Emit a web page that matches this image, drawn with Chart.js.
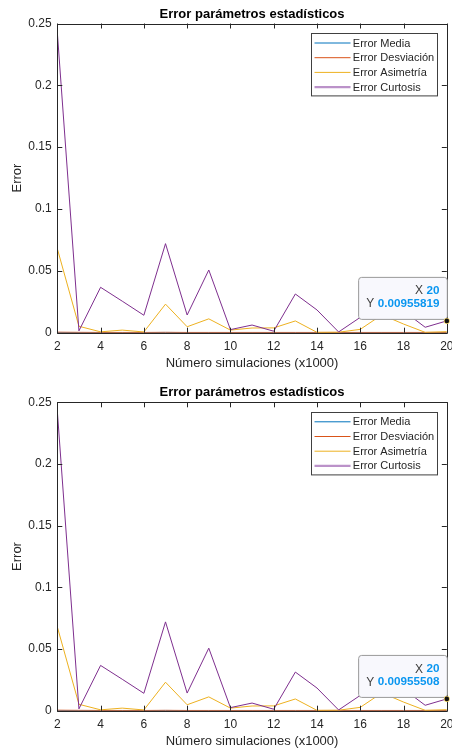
<!DOCTYPE html>
<html><head><meta charset="utf-8">
<script src="https://cdn.jsdelivr.net/npm/chart.js@4/dist/chart.umd.min.js"></script>
<style>
html,body{margin:0;padding:0;background:#fff;overflow:hidden;width:452px;height:749px;}
.wrap{position:absolute;left:0;width:460px;height:372px;}
canvas{display:block;}
</style></head><body>
<div class="wrap" style="top:0px"><canvas id="c1" width="460" height="372"></canvas></div>
<div class="wrap" style="top:377px"><canvas id="c2" width="460" height="372"></canvas></div>
<script>
// ---- data ----
const simulaciones = [2,3,4,5,6,7,8,9,10,11,12,13,14,15,16,17,18,19,20];
const errorMedia = [0.0002,0.0001,0.0001,0.0001,0.0001,0.0002,0.0001,0.0001,0.0001,0.0001,0.0001,0.0001,0.0001,0.0001,0.0001,0.0001,0.0001,0.0001,0.0001];
const errorDesviacion = [0.0004,0.0003,0.0002,0.0002,0.0002,0.0003,0.0002,0.0002,0.0002,0.0002,0.0002,0.0002,0.0002,0.0002,0.0002,0.0002,0.0002,0.0002,0.0002];
const errorAsimetria = [0.068,0.0052,0.0007,0.0021,0.0006,0.0231,0.0048,0.0112,0.0021,0.0038,0.0039,0.0095,0.0003,0.0004,0.0027,0.0145,0.007,0.0003,0.0008];
const errorCurtosis1 = [0.243,0.0015,0.0367,0.0255,0.0141,0.072,0.0143,0.0507,0.0025,0.0062,0.0012,0.0313,0.0184,0.0006,0.0124,0.02,0.0176,0.0044,0.00955819];
const errorCurtosis2 = [0.243,0.0015,0.0367,0.0255,0.0141,0.072,0.0143,0.0507,0.0025,0.0062,0.0012,0.0313,0.0184,0.0006,0.0124,0.02,0.0176,0.0044,0.00955508];
const tip1 = ['20','0.00955819'];
const tip2 = ['20','0.00955508'];
const xTickValues = [2,4,6,8,10,12,14,16,18,20];
const yTickValues = [0,0.05,0.1,0.15,0.2,0.25];
const yTickLabels = ['0','0.05','0.1','0.15','0.2','0.25'];
const seriesLabels = ['Error Media','Error Desviación','Error Asimetría','Error Curtosis'];
const seriesColors = ['#0072BD','#D95319','#EDB120','#7E2F8E'];
const chartTitle = 'Error parámetros estadísticos';
const xAxisTitle = 'Número simulaciones (x1000)';
const yAxisTitle = 'Error';

const FONT = "'Liberation Sans', Arial, Helvetica, sans-serif";
const AX = '#262626';

const boxPlugin = {
  id: 'matlabBox',
  afterDatasetsDraw(chart) {
    const {ctx, chartArea: a, scales} = chart;
    ctx.save();
    ctx.strokeStyle = AX; ctx.lineWidth = 1;
    ctx.beginPath();
    ctx.rect(Math.round(a.left)+0.5, Math.round(a.top)+0.5, Math.round(a.right)-Math.round(a.left), Math.round(a.bottom)-Math.round(a.top));
    ctx.stroke();
    const tl = 5;
    ctx.beginPath();
    scales.x.ticks.forEach(t => {
      const px = Math.round(scales.x.getPixelForValue(t.value))+0.5;
      ctx.moveTo(px, a.bottom); ctx.lineTo(px, a.bottom - tl);
      ctx.moveTo(px, a.top); ctx.lineTo(px, a.top + tl);
    });
    scales.y.ticks.forEach(t => {
      const py = Math.round(scales.y.getPixelForValue(t.value))+0.5;
      ctx.moveTo(a.left, py); ctx.lineTo(a.left + tl, py);
      ctx.moveTo(a.right, py); ctx.lineTo(a.right - tl, py);
    });
    ctx.stroke();
    ctx.restore();
  },
  afterDraw(chart, args, opts) {
    const {ctx, chartArea: a, scales} = chart;
    // legend
    ctx.save();
    const bw = 126, bh = 62.4;
    const bx = a.right - 9.7 - bw, by = a.top + 9.8;
    ctx.fillStyle = '#fff';
    ctx.fillRect(bx, by, bw, bh);
    ctx.strokeStyle = '#404040'; ctx.lineWidth = 1;
    ctx.strokeRect(Math.round(bx)+0.5, Math.round(by)+0.5, bw, bh);
    ctx.font = '11px ' + FONT;
    ctx.textBaseline = 'middle'; ctx.textAlign = 'left';
    chart.data.datasets.forEach((ds, i) => {
      const yy = by + 9.7 + i * 14.7;
      ctx.beginPath();
      ctx.strokeStyle = i === 3 ? '#bb92c9' : ds.borderColor;
      ctx.lineWidth = i === 3 ? 2.2 : 1;
      ctx.moveTo(bx + 3.4, yy); ctx.lineTo(bx + 39.4, yy);
      ctx.stroke();
      ctx.fillStyle = AX;
      ctx.fillText(ds.label, bx + 41.7, yy + 0.5);
    });
    // datatip
    const tip = opts.tip;
    const ds = chart.data.datasets[3].data;
    const last = ds[ds.length - 1];
    const px = scales.x.getPixelForValue(last.x), py = scales.y.getPixelForValue(last.y);
    const tw = 88.7, th = 42;
    const tx = px - tw, ty = py - 2 - th;
    ctx.beginPath();
    if (ctx.roundRect) ctx.roundRect(tx+0.5, ty+0.5, tw, th, 3); else ctx.rect(tx+0.5, ty+0.5, tw, th);
    ctx.fillStyle = '#f8f8fd'; ctx.fill();
    ctx.strokeStyle = '#9a9a9a'; ctx.lineWidth = 1; ctx.stroke();
    ctx.textAlign = 'right'; ctx.textBaseline = 'middle';
    const rx = px - 7.4;
    ctx.font = 'bold 11.7px ' + FONT;
    const w1 = ctx.measureText(tip[0]).width, w2 = ctx.measureText(tip[1]).width;
    ctx.fillStyle = '#0a96f0';
    ctx.fillText(tip[0], rx, ty + 14.3);
    ctx.fillText(tip[1], rx, ty + 27.3);
    ctx.font = '12px ' + FONT;
    ctx.fillStyle = '#404040';
    ctx.fillText('X ', rx - w1, ty + 14.3);
    ctx.fillText('Y ', rx - w2, ty + 27.3);
    // marker
    ctx.beginPath();
    ctx.arc(px, py, 3, 0, Math.PI * 2);
    ctx.fillStyle = '#f0d060'; ctx.fill();
    ctx.beginPath();
    ctx.arc(px, py, 2.3, 0, Math.PI * 2);
    ctx.fillStyle = '#111'; ctx.fill();
    ctx.restore();
  }
};

function makeChart(id, curtosis, tip, g) {
  const series = [errorMedia, errorDesviacion, errorAsimetria, curtosis];
  const datasets = series.map((arr, i) => ({
    label: seriesLabels[i],
    data: simulaciones.map((x, k) => ({x: x, y: arr[k]})),
    borderColor: seriesColors[i],
    backgroundColor: seriesColors[i],
    borderWidth: 1,
    pointRadius: 0,
    tension: 0,
    fill: false,
    order: 4 - i
  }));
  return new Chart(document.getElementById(id), {
    type: 'line',
    data: {datasets},
    plugins: [boxPlugin],
    options: {
      responsive: false,
      animation: false,
      devicePixelRatio: 1,
      layout: {padding: {left: 9.5, right: 12, top: 0, bottom: 0}},
      plugins: {
        legend: {display: false},
        tooltip: {enabled: false},
        title: {display: true, text: chartTitle, color: '#000', fullSize: false,
          font: {family: FONT, size: 13, weight: 'bold', lineHeight: 1.2},
          padding: {top: g.titleTop, bottom: g.titleBottom}},
        matlabBox: {tip: tip}
      },
      scales: {
        x: {
          type: 'linear', min: 2, max: 20,
          afterBuildTicks: s => { s.ticks = xTickValues.map(v => ({value: v})); },
          afterFit: s => { s.height = g.xHeight; },
          grid: {display: false, drawTicks: false},
          border: {display: false},
          ticks: {color: AX, font: {family: FONT, size: 12}, padding: g.xTickPad, maxRotation: 0, autoSkip: false,
            callback: v => String(v)},
          title: {display: true, text: xAxisTitle, color: AX, font: {family: FONT, size: 13, lineHeight: 1.2},
            padding: {top: 0, bottom: g.xTitlePad}}
        },
        y: {
          min: 0, max: 0.25,
          afterBuildTicks: s => { s.ticks = yTickValues.map(v => ({value: v})); },
          afterFit: s => { s.width = 47.8; },
          grid: {display: false, drawTicks: false},
          border: {display: false},
          ticks: {color: AX, font: {family: FONT, size: 12}, padding: 5.6, autoSkip: false,
            callback: (v, i) => yTickLabels[yTickValues.indexOf(v)] ?? String(v)},
          title: {display: true, text: yAxisTitle, color: AX, font: {family: FONT, size: 13, lineHeight: 1.2},
            padding: {top: 0, bottom: 0}}
        }
      }
    }
  });
}

makeChart('c1', errorCurtosis1, tip1, {titleTop: 6.2, titleBottom: 1.7, xHeight: 39.3, xTickPad: 6.5, xTitlePad: 1.2});
makeChart('c2', errorCurtosis2, tip2, {titleTop: 7.2, titleBottom: 2.5, xHeight: 38.3, xTickPad: 6.5, xTitlePad: 0});
</script>
</body></html>
